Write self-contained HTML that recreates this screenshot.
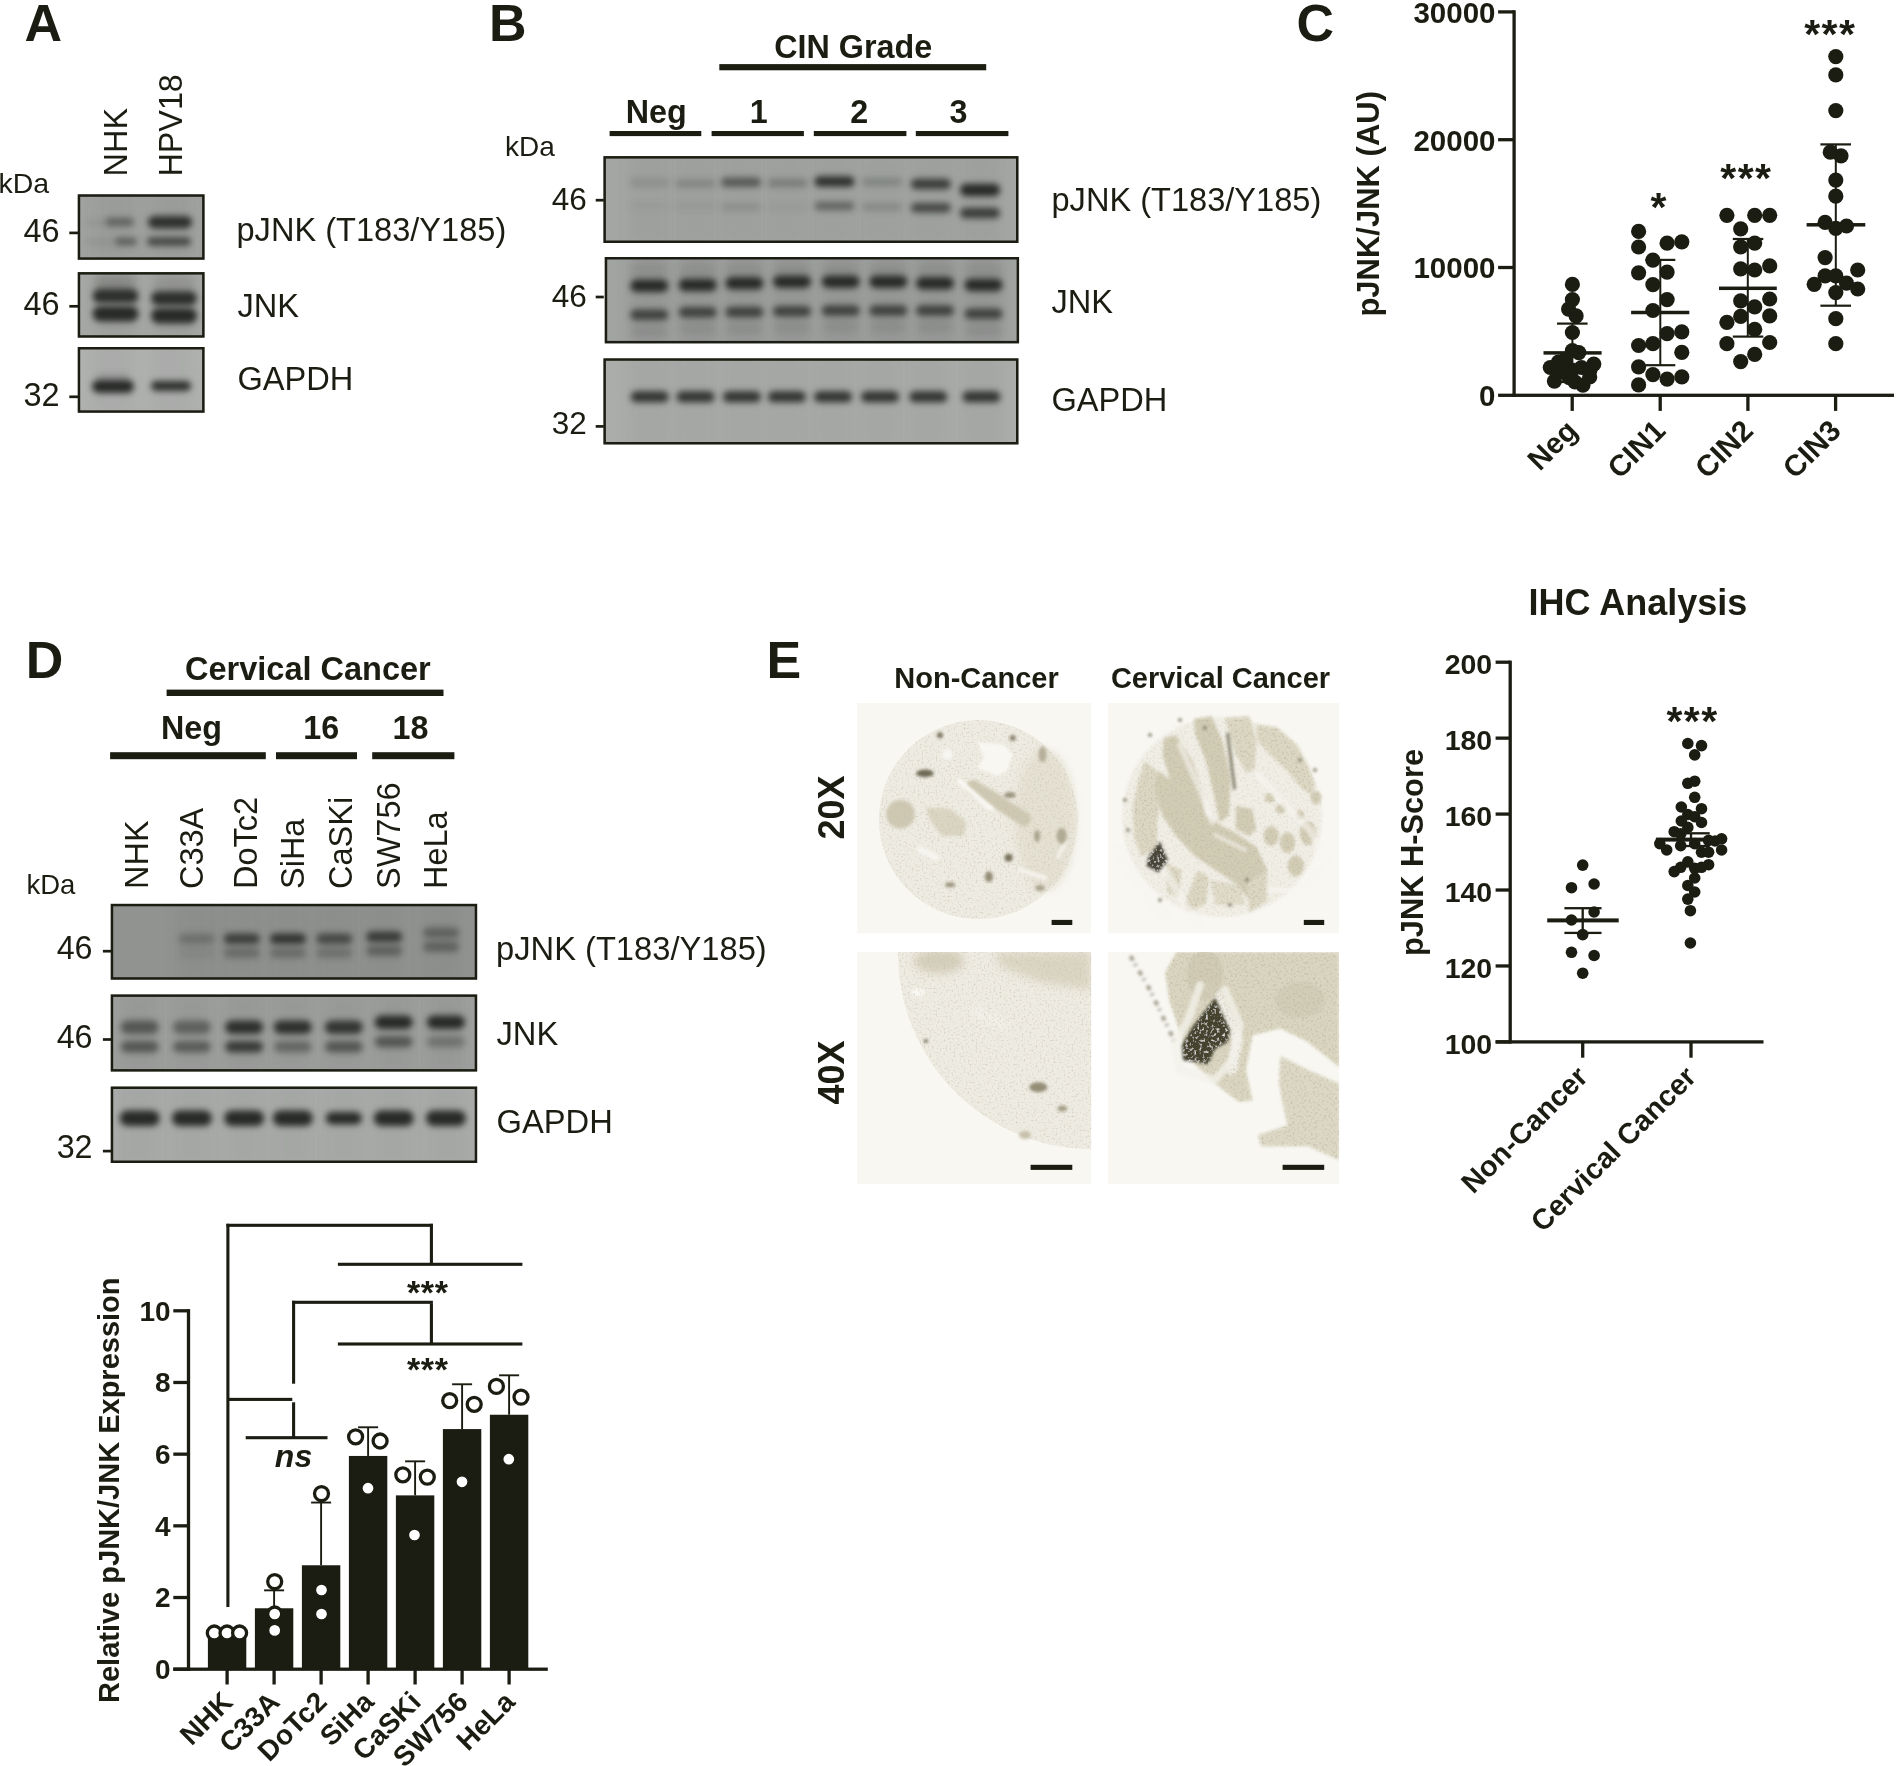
<!DOCTYPE html>
<html><head><meta charset="utf-8"><style>
html,body{margin:0;padding:0;background:#fff;width:1896px;height:1766px;overflow:hidden}
svg{display:block;font-family:"Liberation Sans",sans-serif;will-change:transform}
</style></head><body>
<svg width="1896" height="1766" viewBox="0 0 1896 1766">
<defs>
<filter id="bl" color-interpolation-filters="sRGB" x="-50%" y="-150%" width="200%" height="400%"><feGaussianBlur stdDeviation="1.6"/></filter>
<filter id="bb" color-interpolation-filters="sRGB" x="-50%" y="-150%" width="200%" height="400%"><feGaussianBlur stdDeviation="3.0"/></filter>
<filter id="bl3" color-interpolation-filters="sRGB" x="-50%" y="-150%" width="200%" height="400%"><feGaussianBlur stdDeviation="3"/></filter>
<filter id="bl2" color-interpolation-filters="sRGB" x="-50%" y="-50%" width="200%" height="200%"><feGaussianBlur stdDeviation="4"/></filter>
<filter id="bl6" color-interpolation-filters="sRGB" x="-50%" y="-50%" width="200%" height="200%"><feGaussianBlur stdDeviation="7"/></filter>
<filter id="lgrain" x="-10%" y="-10%" width="120%" height="120%">
  <feTurbulence type="fractalNoise" baseFrequency="0.5" numOctaves="2" seed="9" result="n"/>
  <feColorMatrix in="n" type="matrix" values="0 0 0 0 0.55  0 0 0 0 0.52  0 0 0 0 0.38  0 0 0 1.8 -0.92" result="nc"/>
  <feComposite in="nc" in2="SourceAlpha" operator="in" result="ng"/>
  <feMerge><feMergeNode in="SourceGraphic"/><feMergeNode in="ng"/></feMerge>
</filter>
<filter id="wgrain" x="-10%" y="-10%" width="120%" height="120%">
  <feTurbulence type="fractalNoise" baseFrequency="0.35" numOctaves="2" seed="11" result="n"/>
  <feColorMatrix in="n" type="matrix" values="0 0 0 0 0.96  0 0 0 0 0.95  0 0 0 0 0.92  0 0 0 2.6 -1.38" result="nc"/>
  <feComposite in="nc" in2="SourceAlpha" operator="in" result="ng"/>
  <feMerge><feMergeNode in="SourceGraphic"/><feMergeNode in="ng"/></feMerge>
</filter>
<filter id="tgrain" x="-10%" y="-10%" width="120%" height="120%">
  <feTurbulence type="fractalNoise" baseFrequency="0.45" numOctaves="2" seed="5" result="n"/>
  <feColorMatrix in="n" type="matrix" values="0 0 0 0 0.50  0 0 0 0 0.48  0 0 0 0 0.36  0 0 0 2.2 -1.08" result="nc"/>
  <feComposite in="nc" in2="SourceAlpha" operator="in" result="ng"/>
  <feMerge><feMergeNode in="SourceGraphic"/><feMergeNode in="ng"/></feMerge>
</filter>
</defs>
<rect width="1896" height="1766" fill="#fff"/>

<text x="24.5" y="41" font-size="52" font-weight="bold" text-anchor="start" fill="#1c1d12" >A</text>
<text transform="translate(127.3,176.5) rotate(-90)" font-size="32.5" text-anchor="start" fill="#1c1d12" >NHK</text>
<text transform="translate(182.3,176.5) rotate(-90)" font-size="32.3" text-anchor="start" fill="#1c1d12" >HPV18</text>
<text x="-1.5" y="192.5" font-size="28.5" text-anchor="start" fill="#1c1d12" >kDa</text>
<clipPath id="c1"><rect x="77.7" y="194.3" width="126.89999999999999" height="65.5"/></clipPath>
<g clip-path="url(#c1)">
<rect x="77.70" y="194.30" width="126.90" height="65.50" fill="#a0a2a0" />
<rect x="96.0" y="189.3" width="40" height="75.5" fill="#3a3c38" fill-opacity="0.06" filter="url(#bl6)"/>
<rect x="151.0" y="189.3" width="40" height="75.5" fill="#3a3c38" fill-opacity="0.06" filter="url(#bl6)"/>
<rect x="86.0" y="219.2" width="24.0" height="7.5" rx="3.8" fill="#282a28" fill-opacity="0.08" filter="url(#bb)"/>
<rect x="106.0" y="217.8" width="28.0" height="8.5" rx="4.2" fill="#282a28" fill-opacity="0.5" filter="url(#bb)"/>
<rect x="148.0" y="215.9" width="44.0" height="12.5" rx="6.2" fill="#282a28" fill-opacity="0.95" filter="url(#bb)"/>
<rect x="115.0" y="237.8" width="22.0" height="7.5" rx="3.8" fill="#282a28" fill-opacity="0.55" filter="url(#bb)"/>
<rect x="147.0" y="237.2" width="44.0" height="8.5" rx="4.2" fill="#282a28" fill-opacity="0.75" filter="url(#bb)"/>
<rect x="87.0" y="238.8" width="26.0" height="6.5" rx="3.2" fill="#282a28" fill-opacity="0.1" filter="url(#bb)"/>
</g>
<rect x="78.95" y="195.55" width="124.40" height="63.00" fill="none" stroke="#1c1d12" stroke-width="2.5"/>
<clipPath id="c2"><rect x="77.7" y="272.1" width="126.89999999999999" height="65.59999999999997"/></clipPath>
<g clip-path="url(#c2)">
<rect x="77.70" y="272.10" width="126.90" height="65.60" fill="#a6a8a6" />
<rect x="96.0" y="267.1" width="40" height="75.6" fill="#3a3c38" fill-opacity="0.08" filter="url(#bl6)"/>
<rect x="154.0" y="267.1" width="40" height="75.6" fill="#3a3c38" fill-opacity="0.08" filter="url(#bl6)"/>
<rect x="92.5" y="288.8" width="46.0" height="14.5" rx="7.2" fill="#282a28" fill-opacity="0.95" filter="url(#bb)"/>
<rect x="151.0" y="291.2" width="46.0" height="14.5" rx="7.2" fill="#282a28" fill-opacity="0.95" filter="url(#bb)"/>
<rect x="92.5" y="305.9" width="46.0" height="15.5" rx="7.8" fill="#282a28" fill-opacity="1.0" filter="url(#bb)"/>
<rect x="151.0" y="307.9" width="46.0" height="15.5" rx="7.8" fill="#282a28" fill-opacity="1.0" filter="url(#bb)"/>
<rect x="94.0" y="275.2" width="42.0" height="15.5" rx="7.8" fill="#262824" fill-opacity="0.18" filter="url(#bl2)"/>
<rect x="153.0" y="277.2" width="42.0" height="15.5" rx="7.8" fill="#262824" fill-opacity="0.1" filter="url(#bl2)"/>
</g>
<rect x="78.95" y="273.35" width="124.40" height="63.10" fill="none" stroke="#1c1d12" stroke-width="2.5"/>
<clipPath id="c3"><rect x="77.7" y="347.0" width="126.89999999999999" height="65.80000000000001"/></clipPath>
<g clip-path="url(#c3)">
<rect x="77.70" y="347.00" width="126.90" height="65.80" fill="#b0b2b0" />
<rect x="93.0" y="342.0" width="40" height="75.8" fill="#3a3c38" fill-opacity="0.05" filter="url(#bl6)"/>
<rect x="151.0" y="342.0" width="40" height="75.8" fill="#3a3c38" fill-opacity="0.05" filter="url(#bl6)"/>
<rect x="92.0" y="380.0" width="42.0" height="13.0" rx="6.5" fill="#282a28" fill-opacity="1.0" filter="url(#bb)"/>
<rect x="151.0" y="381.0" width="40.0" height="10.0" rx="5.0" fill="#282a28" fill-opacity="0.95" filter="url(#bb)"/>
<rect x="97.0" y="373.2" width="32.0" height="9.5" rx="4.8" fill="#282a28" fill-opacity="0.15" filter="url(#bb)"/>
</g>
<rect x="78.95" y="348.25" width="124.40" height="63.30" fill="none" stroke="#1c1d12" stroke-width="2.5"/>
<text x="59.6" y="241.8" font-size="32.5" text-anchor="end" fill="#1c1d12" >46</text>
<rect x="69.30" y="231.55" width="9.20" height="2.70" fill="#1c1d12" />
<text x="59.6" y="315.2" font-size="32.5" text-anchor="end" fill="#1c1d12" >46</text>
<rect x="69.30" y="304.95" width="9.20" height="2.70" fill="#1c1d12" />
<text x="59.6" y="405.7" font-size="32.5" text-anchor="end" fill="#1c1d12" >32</text>
<rect x="69.30" y="395.45" width="9.20" height="2.70" fill="#1c1d12" />
<text x="236.5" y="240.6" font-size="32.6" text-anchor="start" fill="#1c1d12" >pJNK (T183/Y185)</text>
<text x="237.5" y="316.8" font-size="32.6" text-anchor="start" fill="#1c1d12" >JNK</text>
<text x="237.5" y="390.2" font-size="32.6" text-anchor="start" fill="#1c1d12" >GAPDH</text>
<text x="489" y="40.5" font-size="52" font-weight="bold" text-anchor="start" fill="#1c1d12" >B</text>
<text x="853.2" y="58.4" font-size="32.3" font-weight="bold" text-anchor="middle" fill="#1c1d12" >CIN Grade</text>
<rect x="719.30" y="64.10" width="266.90" height="6.20" fill="#1c1d12" />
<text x="656.3" y="122.5" font-size="32.3" font-weight="bold" text-anchor="middle" fill="#1c1d12" >Neg</text>
<text x="758.8" y="122.5" font-size="32.3" font-weight="bold" text-anchor="middle" fill="#1c1d12" >1</text>
<text x="859.3" y="122.5" font-size="32.3" font-weight="bold" text-anchor="middle" fill="#1c1d12" >2</text>
<text x="958.4" y="122.5" font-size="32.3" font-weight="bold" text-anchor="middle" fill="#1c1d12" >3</text>
<rect x="609.60" y="131.00" width="91.70" height="5.10" fill="#1c1d12" />
<rect x="711.60" y="131.00" width="92.30" height="5.10" fill="#1c1d12" />
<rect x="813.80" y="131.00" width="92.60" height="5.10" fill="#1c1d12" />
<rect x="915.80" y="131.00" width="92.60" height="5.10" fill="#1c1d12" />
<text x="505" y="156.1" font-size="28" text-anchor="start" fill="#1c1d12" >kDa</text>
<clipPath id="c4"><rect x="603.4" y="156.1" width="415.1" height="86.9"/></clipPath>
<g clip-path="url(#c4)">
<rect x="603.40" y="156.10" width="415.10" height="86.90" fill="#a4a6a4" />
<rect x="629.5" y="151.1" width="40" height="96.9" fill="#3a3c38" fill-opacity="0.06" filter="url(#bl6)"/>
<rect x="675.5" y="151.1" width="40" height="96.9" fill="#3a3c38" fill-opacity="0.06" filter="url(#bl6)"/>
<rect x="721.0" y="151.1" width="40" height="96.9" fill="#3a3c38" fill-opacity="0.06" filter="url(#bl6)"/>
<rect x="767.5" y="151.1" width="40" height="96.9" fill="#3a3c38" fill-opacity="0.06" filter="url(#bl6)"/>
<rect x="814.4" y="151.1" width="40" height="96.9" fill="#3a3c38" fill-opacity="0.06" filter="url(#bl6)"/>
<rect x="862.0" y="151.1" width="40" height="96.9" fill="#3a3c38" fill-opacity="0.06" filter="url(#bl6)"/>
<rect x="910.9" y="151.1" width="40" height="96.9" fill="#3a3c38" fill-opacity="0.06" filter="url(#bl6)"/>
<rect x="960.0" y="151.1" width="40" height="96.9" fill="#3a3c38" fill-opacity="0.06" filter="url(#bl6)"/>
<rect x="629.5" y="178.2" width="40.0" height="8.5" rx="4.2" fill="#282a28" fill-opacity="0.14" filter="url(#bb)"/>
<rect x="629.5" y="202.2" width="40.0" height="7.5" rx="3.8" fill="#282a28" fill-opacity="0.04" filter="url(#bb)"/>
<rect x="675.5" y="179.2" width="40.0" height="8.5" rx="4.2" fill="#282a28" fill-opacity="0.22" filter="url(#bb)"/>
<rect x="675.5" y="202.2" width="40.0" height="7.5" rx="3.8" fill="#282a28" fill-opacity="0.06" filter="url(#bb)"/>
<rect x="721.0" y="177.6" width="40.0" height="9.5" rx="4.8" fill="#282a28" fill-opacity="0.6" filter="url(#bb)"/>
<rect x="721.0" y="203.2" width="40.0" height="7.5" rx="3.8" fill="#282a28" fill-opacity="0.15" filter="url(#bb)"/>
<rect x="767.5" y="178.8" width="40.0" height="8.5" rx="4.2" fill="#282a28" fill-opacity="0.3" filter="url(#bb)"/>
<rect x="767.5" y="203.8" width="40.0" height="6.5" rx="3.2" fill="#282a28" fill-opacity="0.05" filter="url(#bb)"/>
<rect x="814.4" y="176.2" width="40.0" height="10.5" rx="5.2" fill="#282a28" fill-opacity="0.95" filter="url(#bb)"/>
<rect x="814.4" y="201.8" width="40.0" height="8.5" rx="4.2" fill="#282a28" fill-opacity="0.5" filter="url(#bb)"/>
<rect x="862.0" y="178.2" width="40.0" height="7.5" rx="3.8" fill="#282a28" fill-opacity="0.25" filter="url(#bb)"/>
<rect x="862.0" y="203.2" width="40.0" height="7.5" rx="3.8" fill="#282a28" fill-opacity="0.2" filter="url(#bb)"/>
<rect x="910.9" y="178.8" width="40.0" height="10.5" rx="5.2" fill="#282a28" fill-opacity="0.85" filter="url(#bb)"/>
<rect x="910.9" y="203.1" width="40.0" height="9.5" rx="4.8" fill="#282a28" fill-opacity="0.75" filter="url(#bb)"/>
<rect x="960.0" y="183.8" width="40.0" height="12.5" rx="6.2" fill="#282a28" fill-opacity="1.0" filter="url(#bb)"/>
<rect x="960.0" y="207.7" width="40.0" height="10.5" rx="5.2" fill="#282a28" fill-opacity="0.85" filter="url(#bb)"/>
</g>
<rect x="604.65" y="157.35" width="412.60" height="84.40" fill="none" stroke="#1c1d12" stroke-width="2.5"/>
<clipPath id="c5"><rect x="604.7" y="257" width="414.4" height="86.39999999999998"/></clipPath>
<g clip-path="url(#c5)">
<rect x="604.70" y="257.00" width="414.40" height="86.40" fill="#a2a4a2" />
<rect x="629.3" y="252" width="40" height="96.4" fill="#3a3c38" fill-opacity="0.12" filter="url(#bl6)"/>
<rect x="677.7" y="252" width="40" height="96.4" fill="#3a3c38" fill-opacity="0.12" filter="url(#bl6)"/>
<rect x="724.4" y="252" width="40" height="96.4" fill="#3a3c38" fill-opacity="0.12" filter="url(#bl6)"/>
<rect x="772.0" y="252" width="40" height="96.4" fill="#3a3c38" fill-opacity="0.12" filter="url(#bl6)"/>
<rect x="820.7" y="252" width="40" height="96.4" fill="#3a3c38" fill-opacity="0.12" filter="url(#bl6)"/>
<rect x="868.3" y="252" width="40" height="96.4" fill="#3a3c38" fill-opacity="0.12" filter="url(#bl6)"/>
<rect x="915.0" y="252" width="40" height="96.4" fill="#3a3c38" fill-opacity="0.12" filter="url(#bl6)"/>
<rect x="963.5" y="252" width="40" height="96.4" fill="#3a3c38" fill-opacity="0.12" filter="url(#bl6)"/>
<rect x="630.3" y="279.6" width="38.0" height="12.5" rx="6.2" fill="#282a28" fill-opacity="1.0" filter="url(#bb)"/>
<rect x="630.3" y="309.6" width="38.0" height="10.5" rx="5.2" fill="#282a28" fill-opacity="0.8" filter="url(#bb)"/>
<rect x="631.3" y="325.1" width="36.0" height="11.5" rx="5.8" fill="#3a3c38" fill-opacity="0.1" filter="url(#bl3)"/>
<rect x="631.3" y="263.2" width="36.0" height="15.5" rx="7.8" fill="#3a3c38" fill-opacity="0.08" filter="url(#bl3)"/>
<rect x="678.7" y="278.8" width="38.0" height="12.5" rx="6.2" fill="#282a28" fill-opacity="1.0" filter="url(#bb)"/>
<rect x="678.7" y="306.9" width="38.0" height="10.5" rx="5.2" fill="#282a28" fill-opacity="0.8" filter="url(#bb)"/>
<rect x="679.7" y="322.4" width="36.0" height="11.5" rx="5.8" fill="#3a3c38" fill-opacity="0.1" filter="url(#bl3)"/>
<rect x="679.7" y="263.2" width="36.0" height="15.5" rx="7.8" fill="#3a3c38" fill-opacity="0.08" filter="url(#bl3)"/>
<rect x="725.4" y="277.1" width="38.0" height="12.5" rx="6.2" fill="#282a28" fill-opacity="1.0" filter="url(#bb)"/>
<rect x="725.4" y="306.8" width="38.0" height="10.5" rx="5.2" fill="#282a28" fill-opacity="0.8" filter="url(#bb)"/>
<rect x="726.4" y="322.2" width="36.0" height="11.5" rx="5.8" fill="#3a3c38" fill-opacity="0.1" filter="url(#bl3)"/>
<rect x="726.4" y="263.2" width="36.0" height="15.5" rx="7.8" fill="#3a3c38" fill-opacity="0.08" filter="url(#bl3)"/>
<rect x="773.0" y="275.4" width="38.0" height="12.5" rx="6.2" fill="#282a28" fill-opacity="1.0" filter="url(#bb)"/>
<rect x="773.0" y="306.1" width="38.0" height="10.5" rx="5.2" fill="#282a28" fill-opacity="0.8" filter="url(#bb)"/>
<rect x="774.0" y="321.6" width="36.0" height="11.5" rx="5.8" fill="#3a3c38" fill-opacity="0.1" filter="url(#bl3)"/>
<rect x="774.0" y="263.2" width="36.0" height="15.5" rx="7.8" fill="#3a3c38" fill-opacity="0.08" filter="url(#bl3)"/>
<rect x="821.7" y="275.4" width="38.0" height="12.5" rx="6.2" fill="#282a28" fill-opacity="1.0" filter="url(#bb)"/>
<rect x="821.7" y="305.2" width="38.0" height="10.5" rx="5.2" fill="#282a28" fill-opacity="0.8" filter="url(#bb)"/>
<rect x="822.7" y="320.8" width="36.0" height="11.5" rx="5.8" fill="#3a3c38" fill-opacity="0.1" filter="url(#bl3)"/>
<rect x="822.7" y="263.2" width="36.0" height="15.5" rx="7.8" fill="#3a3c38" fill-opacity="0.08" filter="url(#bl3)"/>
<rect x="869.3" y="275.4" width="38.0" height="12.5" rx="6.2" fill="#282a28" fill-opacity="1.0" filter="url(#bb)"/>
<rect x="869.3" y="305.2" width="38.0" height="10.5" rx="5.2" fill="#282a28" fill-opacity="0.8" filter="url(#bb)"/>
<rect x="870.3" y="320.8" width="36.0" height="11.5" rx="5.8" fill="#3a3c38" fill-opacity="0.1" filter="url(#bl3)"/>
<rect x="870.3" y="263.2" width="36.0" height="15.5" rx="7.8" fill="#3a3c38" fill-opacity="0.08" filter="url(#bl3)"/>
<rect x="916.0" y="277.1" width="38.0" height="12.5" rx="6.2" fill="#282a28" fill-opacity="1.0" filter="url(#bb)"/>
<rect x="916.0" y="305.2" width="38.0" height="10.5" rx="5.2" fill="#282a28" fill-opacity="0.8" filter="url(#bb)"/>
<rect x="917.0" y="320.8" width="36.0" height="11.5" rx="5.8" fill="#3a3c38" fill-opacity="0.1" filter="url(#bl3)"/>
<rect x="917.0" y="263.2" width="36.0" height="15.5" rx="7.8" fill="#3a3c38" fill-opacity="0.08" filter="url(#bl3)"/>
<rect x="964.5" y="278.8" width="38.0" height="12.5" rx="6.2" fill="#282a28" fill-opacity="1.0" filter="url(#bb)"/>
<rect x="964.5" y="308.6" width="38.0" height="10.5" rx="5.2" fill="#282a28" fill-opacity="0.8" filter="url(#bb)"/>
<rect x="965.5" y="324.1" width="36.0" height="11.5" rx="5.8" fill="#3a3c38" fill-opacity="0.1" filter="url(#bl3)"/>
<rect x="965.5" y="263.2" width="36.0" height="15.5" rx="7.8" fill="#3a3c38" fill-opacity="0.08" filter="url(#bl3)"/>
</g>
<rect x="605.95" y="258.25" width="411.90" height="83.90" fill="none" stroke="#1c1d12" stroke-width="2.5"/>
<clipPath id="c6"><rect x="603.4" y="358.3" width="415.1" height="86.19999999999999"/></clipPath>
<g clip-path="url(#c6)">
<rect x="603.40" y="358.30" width="415.10" height="86.20" fill="#abadab" />
<rect x="629.7" y="353.3" width="40" height="96.2" fill="#3a3c38" fill-opacity="0.05" filter="url(#bl6)"/>
<rect x="675.5" y="353.3" width="40" height="96.2" fill="#3a3c38" fill-opacity="0.05" filter="url(#bl6)"/>
<rect x="721.9" y="353.3" width="40" height="96.2" fill="#3a3c38" fill-opacity="0.05" filter="url(#bl6)"/>
<rect x="766.9" y="353.3" width="40" height="96.2" fill="#3a3c38" fill-opacity="0.05" filter="url(#bl6)"/>
<rect x="813.0" y="353.3" width="40" height="96.2" fill="#3a3c38" fill-opacity="0.05" filter="url(#bl6)"/>
<rect x="860.0" y="353.3" width="40" height="96.2" fill="#3a3c38" fill-opacity="0.05" filter="url(#bl6)"/>
<rect x="908.3" y="353.3" width="40" height="96.2" fill="#3a3c38" fill-opacity="0.05" filter="url(#bl6)"/>
<rect x="961.4" y="353.3" width="40" height="96.2" fill="#3a3c38" fill-opacity="0.05" filter="url(#bl6)"/>
<rect x="630.7" y="391.3" width="38.0" height="11.0" rx="5.5" fill="#282a28" fill-opacity="0.92" filter="url(#bb)"/>
<rect x="676.5" y="391.3" width="38.0" height="11.0" rx="5.5" fill="#282a28" fill-opacity="0.92" filter="url(#bb)"/>
<rect x="722.9" y="391.3" width="38.0" height="11.0" rx="5.5" fill="#282a28" fill-opacity="0.92" filter="url(#bb)"/>
<rect x="767.9" y="391.3" width="38.0" height="11.0" rx="5.5" fill="#282a28" fill-opacity="0.92" filter="url(#bb)"/>
<rect x="814.0" y="391.3" width="38.0" height="11.0" rx="5.5" fill="#282a28" fill-opacity="0.92" filter="url(#bb)"/>
<rect x="861.0" y="391.3" width="38.0" height="11.0" rx="5.5" fill="#282a28" fill-opacity="0.92" filter="url(#bb)"/>
<rect x="909.3" y="391.3" width="38.0" height="11.0" rx="5.5" fill="#282a28" fill-opacity="0.92" filter="url(#bb)"/>
<rect x="962.4" y="391.3" width="38.0" height="11.0" rx="5.5" fill="#282a28" fill-opacity="0.92" filter="url(#bb)"/>
</g>
<rect x="604.65" y="359.55" width="412.60" height="83.70" fill="none" stroke="#1c1d12" stroke-width="2.5"/>
<text x="586.8" y="209.9" font-size="31.5" text-anchor="end" fill="#1c1d12" >46</text>
<rect x="595.70" y="198.85" width="8.10" height="2.70" fill="#1c1d12" />
<text x="586.8" y="306.5" font-size="31.5" text-anchor="end" fill="#1c1d12" >46</text>
<rect x="595.70" y="295.65" width="8.10" height="2.70" fill="#1c1d12" />
<text x="586.8" y="433.5" font-size="31.5" text-anchor="end" fill="#1c1d12" >32</text>
<rect x="595.70" y="425.05" width="8.10" height="2.70" fill="#1c1d12" />
<text x="1051.5" y="210.8" font-size="32.6" text-anchor="start" fill="#1c1d12" >pJNK (T183/Y185)</text>
<text x="1051.5" y="313" font-size="32.6" text-anchor="start" fill="#1c1d12" >JNK</text>
<text x="1051.5" y="410.5" font-size="32.6" text-anchor="start" fill="#1c1d12" >GAPDH</text>
<text x="1296.5" y="40.6" font-size="52" font-weight="bold" text-anchor="start" fill="#1c1d12" >C</text>
<rect x="1512.45" y="10.20" width="3.30" height="386.80" fill="#1c1d12" />
<rect x="1512.50" y="393.65" width="381.50" height="3.30" fill="#1c1d12" />
<rect x="1498.10" y="393.65" width="16.00" height="3.30" fill="#1c1d12" />
<text x="1495.5" y="406.1" font-size="29.5" font-weight="bold" text-anchor="end" fill="#1c1d12" >0</text>
<rect x="1498.10" y="265.85" width="16.00" height="3.30" fill="#1c1d12" />
<text x="1495.5" y="278.3" font-size="29.5" font-weight="bold" text-anchor="end" fill="#1c1d12" >10000</text>
<rect x="1498.10" y="138.05" width="16.00" height="3.30" fill="#1c1d12" />
<text x="1495.5" y="150.5" font-size="29.5" font-weight="bold" text-anchor="end" fill="#1c1d12" >20000</text>
<rect x="1498.10" y="10.25" width="16.00" height="3.30" fill="#1c1d12" />
<text x="1495.5" y="22.699999999999978" font-size="29.5" font-weight="bold" text-anchor="end" fill="#1c1d12" >30000</text>
<rect x="1570.55" y="395.30" width="3.30" height="15.60" fill="#1c1d12" />
<rect x="1658.55" y="395.30" width="3.30" height="15.60" fill="#1c1d12" />
<rect x="1746.25" y="395.30" width="3.30" height="15.60" fill="#1c1d12" />
<rect x="1833.95" y="395.30" width="3.30" height="15.60" fill="#1c1d12" />
<text transform="translate(1379,203.8) rotate(-90)" font-size="31" font-weight="bold" text-anchor="middle" fill="#1c1d12" >pJNK/JNK (AU)</text>
<text transform="translate(1579.2,432.5) rotate(-45)" font-size="29.5" font-weight="bold" text-anchor="end" fill="#1c1d12" >Neg</text>
<text transform="translate(1667.2,432.5) rotate(-45)" font-size="29.5" font-weight="bold" text-anchor="end" fill="#1c1d12" >CIN1</text>
<text transform="translate(1754.9,432.5) rotate(-45)" font-size="29.5" font-weight="bold" text-anchor="end" fill="#1c1d12" >CIN2</text>
<text transform="translate(1842.6,432.5) rotate(-45)" font-size="29.5" font-weight="bold" text-anchor="end" fill="#1c1d12" >CIN3</text>
<circle cx="1572.4" cy="284.4" r="7.6" fill="#1c1d12"/>
<circle cx="1572.4" cy="299.6" r="7.6" fill="#1c1d12"/>
<circle cx="1568.6" cy="309.1" r="7.6" fill="#1c1d12"/>
<circle cx="1576.1" cy="315.9" r="7.6" fill="#1c1d12"/>
<circle cx="1572.4" cy="332.5" r="7.6" fill="#1c1d12"/>
<circle cx="1572.4" cy="350.5" r="7.6" fill="#1c1d12"/>
<circle cx="1578.8" cy="352.6" r="7.6" fill="#1c1d12"/>
<circle cx="1558.4" cy="362.1" r="7.6" fill="#1c1d12"/>
<circle cx="1550.3" cy="367.5" r="7.6" fill="#1c1d12"/>
<circle cx="1593.8" cy="364.1" r="7.6" fill="#1c1d12"/>
<circle cx="1569.3" cy="377.7" r="7.6" fill="#1c1d12"/>
<circle cx="1554.4" cy="381.1" r="7.6" fill="#1c1d12"/>
<circle cx="1589.7" cy="377" r="7.6" fill="#1c1d12"/>
<circle cx="1582.9" cy="385.2" r="7.6" fill="#1c1d12"/>
<circle cx="1572" cy="370.2" r="7.6" fill="#1c1d12"/>
<circle cx="1581.5" cy="367.5" r="7.6" fill="#1c1d12"/>
<circle cx="1560" cy="372" r="7.6" fill="#1c1d12"/>
<circle cx="1590" cy="370" r="7.6" fill="#1c1d12"/>
<circle cx="1565" cy="360" r="7.6" fill="#1c1d12"/>
<circle cx="1575" cy="382" r="7.6" fill="#1c1d12"/>
<circle cx="1638.6" cy="231.4" r="7.6" fill="#1c1d12"/>
<circle cx="1638.6" cy="247" r="7.6" fill="#1c1d12"/>
<circle cx="1667.1" cy="243.2" r="7.6" fill="#1c1d12"/>
<circle cx="1681.8" cy="241.8" r="7.6" fill="#1c1d12"/>
<circle cx="1652.9" cy="260.2" r="7.6" fill="#1c1d12"/>
<circle cx="1638.6" cy="272.8" r="7.6" fill="#1c1d12"/>
<circle cx="1667.1" cy="272.1" r="7.6" fill="#1c1d12"/>
<circle cx="1652.9" cy="284.6" r="7.6" fill="#1c1d12"/>
<circle cx="1667.1" cy="299.6" r="7.6" fill="#1c1d12"/>
<circle cx="1652.9" cy="310.5" r="7.6" fill="#1c1d12"/>
<circle cx="1667.1" cy="333.6" r="7.6" fill="#1c1d12"/>
<circle cx="1681.8" cy="331.9" r="7.6" fill="#1c1d12"/>
<circle cx="1638.6" cy="345.5" r="7.6" fill="#1c1d12"/>
<circle cx="1652.9" cy="343.7" r="7.6" fill="#1c1d12"/>
<circle cx="1681.8" cy="352.3" r="7.6" fill="#1c1d12"/>
<circle cx="1638.6" cy="366.8" r="7.6" fill="#1c1d12"/>
<circle cx="1652.9" cy="374.6" r="7.6" fill="#1c1d12"/>
<circle cx="1667.1" cy="379.1" r="7.6" fill="#1c1d12"/>
<circle cx="1681.8" cy="376.8" r="7.6" fill="#1c1d12"/>
<circle cx="1638.6" cy="384.9" r="7.6" fill="#1c1d12"/>
<circle cx="1726.9" cy="215.3" r="7.6" fill="#1c1d12"/>
<circle cx="1754.7" cy="215.3" r="7.6" fill="#1c1d12"/>
<circle cx="1769.7" cy="215.3" r="7.6" fill="#1c1d12"/>
<circle cx="1740.7" cy="228.8" r="7.6" fill="#1c1d12"/>
<circle cx="1740.7" cy="246.9" r="7.6" fill="#1c1d12"/>
<circle cx="1754.7" cy="243.1" r="7.6" fill="#1c1d12"/>
<circle cx="1740.7" cy="268.8" r="7.6" fill="#1c1d12"/>
<circle cx="1754.7" cy="270" r="7.6" fill="#1c1d12"/>
<circle cx="1769.7" cy="265.9" r="7.6" fill="#1c1d12"/>
<circle cx="1740.7" cy="300.9" r="7.6" fill="#1c1d12"/>
<circle cx="1754.7" cy="306.8" r="7.6" fill="#1c1d12"/>
<circle cx="1769.7" cy="299" r="7.6" fill="#1c1d12"/>
<circle cx="1740.7" cy="316.4" r="7.6" fill="#1c1d12"/>
<circle cx="1726.9" cy="322.3" r="7.6" fill="#1c1d12"/>
<circle cx="1769.7" cy="315.9" r="7.6" fill="#1c1d12"/>
<circle cx="1754.7" cy="329.4" r="7.6" fill="#1c1d12"/>
<circle cx="1726.9" cy="343.7" r="7.6" fill="#1c1d12"/>
<circle cx="1769.7" cy="342.5" r="7.6" fill="#1c1d12"/>
<circle cx="1754.7" cy="354.4" r="7.6" fill="#1c1d12"/>
<circle cx="1740.7" cy="361.6" r="7.6" fill="#1c1d12"/>
<circle cx="1835.8" cy="56.6" r="7.6" fill="#1c1d12"/>
<circle cx="1835.8" cy="74.9" r="7.6" fill="#1c1d12"/>
<circle cx="1835.8" cy="110.6" r="7.6" fill="#1c1d12"/>
<circle cx="1830.3" cy="152.2" r="7.6" fill="#1c1d12"/>
<circle cx="1841" cy="155.8" r="7.6" fill="#1c1d12"/>
<circle cx="1835.8" cy="180.1" r="7.6" fill="#1c1d12"/>
<circle cx="1835.8" cy="196.2" r="7.6" fill="#1c1d12"/>
<circle cx="1825.1" cy="222.4" r="7.6" fill="#1c1d12"/>
<circle cx="1835.8" cy="228.4" r="7.6" fill="#1c1d12"/>
<circle cx="1846.5" cy="226" r="7.6" fill="#1c1d12"/>
<circle cx="1825.1" cy="257.6" r="7.6" fill="#1c1d12"/>
<circle cx="1857.7" cy="270" r="7.6" fill="#1c1d12"/>
<circle cx="1825.1" cy="275.9" r="7.6" fill="#1c1d12"/>
<circle cx="1835.8" cy="275.9" r="7.6" fill="#1c1d12"/>
<circle cx="1814.2" cy="284.3" r="7.6" fill="#1c1d12"/>
<circle cx="1846.5" cy="283.1" r="7.6" fill="#1c1d12"/>
<circle cx="1835.8" cy="292.6" r="7.6" fill="#1c1d12"/>
<circle cx="1857.7" cy="289" r="7.6" fill="#1c1d12"/>
<circle cx="1835.8" cy="318.7" r="7.6" fill="#1c1d12"/>
<circle cx="1835.8" cy="343.7" r="7.6" fill="#1c1d12"/>
<rect x="1571.40" y="323.60" width="2.00" height="58.40" fill="#1c1d12" />
<rect x="1543.50" y="351.15" width="58.10" height="3.50" fill="#1c1d12" />
<rect x="1557.00" y="322.50" width="30.60" height="2.20" fill="#1c1d12" />
<rect x="1557.00" y="380.90" width="30.60" height="2.20" fill="#1c1d12" />
<rect x="1659.30" y="259.90" width="2.00" height="105.30" fill="#1c1d12" />
<rect x="1631.10" y="310.75" width="58.20" height="3.50" fill="#1c1d12" />
<rect x="1645.40" y="258.80" width="29.90" height="2.20" fill="#1c1d12" />
<rect x="1645.40" y="364.10" width="29.90" height="2.20" fill="#1c1d12" />
<rect x="1746.80" y="239.00" width="2.00" height="97.60" fill="#1c1d12" />
<rect x="1719.00" y="286.55" width="57.80" height="3.50" fill="#1c1d12" />
<rect x="1732.80" y="237.90" width="30.50" height="2.20" fill="#1c1d12" />
<rect x="1732.80" y="335.50" width="30.50" height="2.20" fill="#1c1d12" />
<rect x="1834.80" y="144.40" width="2.00" height="161.30" fill="#1c1d12" />
<rect x="1806.60" y="223.05" width="58.70" height="3.50" fill="#1c1d12" />
<rect x="1820.40" y="143.30" width="30.60" height="2.20" fill="#1c1d12" />
<rect x="1820.40" y="304.60" width="30.60" height="2.20" fill="#1c1d12" />
<text x="1658.6" y="221" font-size="41" font-weight="bold" text-anchor="middle" fill="#1c1d12" >*</text>
<text x="1746.4" y="192" font-size="41" font-weight="bold" text-anchor="middle" fill="#1c1d12" letter-spacing="1.4">***</text>
<text x="1830.3" y="48.2" font-size="41" font-weight="bold" text-anchor="middle" fill="#1c1d12" letter-spacing="1.4">***</text>
<text x="25.8" y="678.2" font-size="52" font-weight="bold" text-anchor="start" fill="#1c1d12" >D</text>
<text x="307.9" y="680.3" font-size="32.5" font-weight="bold" text-anchor="middle" fill="#1c1d12" >Cervical Cancer</text>
<rect x="166.60" y="689.60" width="276.90" height="6.40" fill="#1c1d12" />
<text x="191.4" y="738.5" font-size="32.3" font-weight="bold" text-anchor="middle" fill="#1c1d12" >Neg</text>
<text x="321.3" y="738.5" font-size="32.3" font-weight="bold" text-anchor="middle" fill="#1c1d12" >16</text>
<text x="410.4" y="738.5" font-size="32.3" font-weight="bold" text-anchor="middle" fill="#1c1d12" >18</text>
<rect x="110.10" y="752.20" width="155.70" height="7.00" fill="#1c1d12" />
<rect x="276.00" y="752.20" width="81.00" height="7.00" fill="#1c1d12" />
<rect x="372.20" y="752.20" width="82.20" height="7.00" fill="#1c1d12" />
<text transform="translate(148.3,889) rotate(-90)" font-size="32.5" text-anchor="start" fill="#1c1d12" >NHK</text>
<text transform="translate(202.7,889) rotate(-90)" font-size="32.5" text-anchor="start" fill="#1c1d12" >C33A</text>
<text transform="translate(257.2,889) rotate(-90)" font-size="32.5" text-anchor="start" fill="#1c1d12" >DoTc2</text>
<text transform="translate(304,889) rotate(-90)" font-size="32.5" text-anchor="start" fill="#1c1d12" >SiHa</text>
<text transform="translate(352.1,889) rotate(-90)" font-size="32.5" text-anchor="start" fill="#1c1d12" >CaSKi</text>
<text transform="translate(400.2,889) rotate(-90)" font-size="32.5" text-anchor="start" fill="#1c1d12" >SW756</text>
<text transform="translate(447,889) rotate(-90)" font-size="32.5" text-anchor="start" fill="#1c1d12" >HeLa</text>
<text x="26.5" y="893.9" font-size="27.5" text-anchor="start" fill="#1c1d12" >kDa</text>
<clipPath id="c7"><rect x="110.7" y="903.8" width="366.5" height="75.90000000000009"/></clipPath>
<g clip-path="url(#c7)">
<rect x="110.70" y="903.80" width="366.50" height="75.90" fill="#919391" />
<rect x="176.7" y="898.8" width="40" height="85.9" fill="#3a3c38" fill-opacity="0.05" filter="url(#bl6)"/>
<rect x="221.8" y="898.8" width="40" height="85.9" fill="#3a3c38" fill-opacity="0.05" filter="url(#bl6)"/>
<rect x="268.0" y="898.8" width="40" height="85.9" fill="#3a3c38" fill-opacity="0.05" filter="url(#bl6)"/>
<rect x="314.3" y="898.8" width="40" height="85.9" fill="#3a3c38" fill-opacity="0.05" filter="url(#bl6)"/>
<rect x="364.2" y="898.8" width="40" height="85.9" fill="#3a3c38" fill-opacity="0.05" filter="url(#bl6)"/>
<rect x="421.1" y="898.8" width="40" height="85.9" fill="#3a3c38" fill-opacity="0.05" filter="url(#bl6)"/>
<rect x="178.7" y="933.5" width="36.0" height="10.5" rx="5.2" fill="#282a28" fill-opacity="0.3" filter="url(#bb)"/>
<rect x="178.7" y="947.6" width="36.0" height="10.5" rx="5.2" fill="#282a28" fill-opacity="0.08" filter="url(#bb)"/>
<rect x="223.8" y="933.5" width="36.0" height="10.5" rx="5.2" fill="#282a28" fill-opacity="0.8" filter="url(#bb)"/>
<rect x="223.8" y="947.6" width="36.0" height="10.5" rx="5.2" fill="#282a28" fill-opacity="0.35" filter="url(#bb)"/>
<rect x="270.0" y="933.5" width="36.0" height="10.5" rx="5.2" fill="#282a28" fill-opacity="0.9" filter="url(#bb)"/>
<rect x="270.0" y="947.6" width="36.0" height="10.5" rx="5.2" fill="#282a28" fill-opacity="0.35" filter="url(#bb)"/>
<rect x="316.3" y="933.5" width="36.0" height="10.5" rx="5.2" fill="#282a28" fill-opacity="0.7" filter="url(#bb)"/>
<rect x="316.3" y="947.6" width="36.0" height="10.5" rx="5.2" fill="#282a28" fill-opacity="0.3" filter="url(#bb)"/>
<rect x="366.2" y="931.5" width="36.0" height="10.5" rx="5.2" fill="#282a28" fill-opacity="0.85" filter="url(#bb)"/>
<rect x="366.2" y="945.6" width="36.0" height="10.5" rx="5.2" fill="#282a28" fill-opacity="0.45" filter="url(#bb)"/>
<rect x="423.1" y="927.5" width="36.0" height="10.5" rx="5.2" fill="#282a28" fill-opacity="0.45" filter="url(#bb)"/>
<rect x="423.1" y="941.6" width="36.0" height="10.5" rx="5.2" fill="#282a28" fill-opacity="0.45" filter="url(#bb)"/>
</g>
<rect x="111.95" y="905.05" width="364.00" height="73.40" fill="none" stroke="#1c1d12" stroke-width="2.5"/>
<clipPath id="c8"><rect x="110.7" y="994.4" width="366.5" height="77.19999999999993"/></clipPath>
<g clip-path="url(#c8)">
<rect x="110.70" y="994.40" width="366.50" height="77.20" fill="#9fa19f" />
<rect x="119.7" y="989.4" width="40" height="87.2" fill="#3a3c38" fill-opacity="0.07" filter="url(#bl6)"/>
<rect x="171.9" y="989.4" width="40" height="87.2" fill="#3a3c38" fill-opacity="0.07" filter="url(#bl6)"/>
<rect x="224.1" y="989.4" width="40" height="87.2" fill="#3a3c38" fill-opacity="0.07" filter="url(#bl6)"/>
<rect x="272.8" y="989.4" width="40" height="87.2" fill="#3a3c38" fill-opacity="0.07" filter="url(#bl6)"/>
<rect x="323.8" y="989.4" width="40" height="87.2" fill="#3a3c38" fill-opacity="0.07" filter="url(#bl6)"/>
<rect x="373.7" y="989.4" width="40" height="87.2" fill="#3a3c38" fill-opacity="0.07" filter="url(#bl6)"/>
<rect x="425.9" y="989.4" width="40" height="87.2" fill="#3a3c38" fill-opacity="0.07" filter="url(#bl6)"/>
<rect x="120.7" y="1020.5" width="38.0" height="13.5" rx="6.8" fill="#282a28" fill-opacity="0.6" filter="url(#bb)"/>
<rect x="120.7" y="1041.0" width="38.0" height="11.5" rx="5.8" fill="#282a28" fill-opacity="0.6" filter="url(#bb)"/>
<rect x="172.9" y="1020.5" width="38.0" height="13.5" rx="6.8" fill="#282a28" fill-opacity="0.5" filter="url(#bb)"/>
<rect x="172.9" y="1041.0" width="38.0" height="11.5" rx="5.8" fill="#282a28" fill-opacity="0.55" filter="url(#bb)"/>
<rect x="225.1" y="1020.5" width="38.0" height="13.5" rx="6.8" fill="#282a28" fill-opacity="0.95" filter="url(#bb)"/>
<rect x="225.1" y="1041.0" width="38.0" height="11.5" rx="5.8" fill="#282a28" fill-opacity="0.85" filter="url(#bb)"/>
<rect x="273.8" y="1020.5" width="38.0" height="13.5" rx="6.8" fill="#282a28" fill-opacity="0.95" filter="url(#bb)"/>
<rect x="273.8" y="1041.0" width="38.0" height="11.5" rx="5.8" fill="#282a28" fill-opacity="0.45" filter="url(#bb)"/>
<rect x="324.8" y="1020.5" width="38.0" height="13.5" rx="6.8" fill="#282a28" fill-opacity="0.9" filter="url(#bb)"/>
<rect x="324.8" y="1041.0" width="38.0" height="11.5" rx="5.8" fill="#282a28" fill-opacity="0.6" filter="url(#bb)"/>
<rect x="374.7" y="1015.5" width="38.0" height="13.5" rx="6.8" fill="#282a28" fill-opacity="1.0" filter="url(#bb)"/>
<rect x="374.7" y="1036.0" width="38.0" height="11.5" rx="5.8" fill="#282a28" fill-opacity="0.6" filter="url(#bb)"/>
<rect x="426.9" y="1015.5" width="38.0" height="13.5" rx="6.8" fill="#282a28" fill-opacity="1.0" filter="url(#bb)"/>
<rect x="426.9" y="1036.0" width="38.0" height="11.5" rx="5.8" fill="#282a28" fill-opacity="0.35" filter="url(#bb)"/>
</g>
<rect x="111.95" y="995.65" width="364.00" height="74.70" fill="none" stroke="#1c1d12" stroke-width="2.5"/>
<clipPath id="c9"><rect x="110.7" y="1086.5" width="366.5" height="76.5"/></clipPath>
<g clip-path="url(#c9)">
<rect x="110.70" y="1086.50" width="366.50" height="76.50" fill="#aaacaa" />
<rect x="119.7" y="1081.5" width="40" height="86.5" fill="#3a3c38" fill-opacity="0.04" filter="url(#bl6)"/>
<rect x="171.9" y="1081.5" width="40" height="86.5" fill="#3a3c38" fill-opacity="0.04" filter="url(#bl6)"/>
<rect x="224.1" y="1081.5" width="40" height="86.5" fill="#3a3c38" fill-opacity="0.04" filter="url(#bl6)"/>
<rect x="272.8" y="1081.5" width="40" height="86.5" fill="#3a3c38" fill-opacity="0.04" filter="url(#bl6)"/>
<rect x="323.8" y="1081.5" width="40" height="86.5" fill="#3a3c38" fill-opacity="0.04" filter="url(#bl6)"/>
<rect x="373.7" y="1081.5" width="40" height="86.5" fill="#3a3c38" fill-opacity="0.04" filter="url(#bl6)"/>
<rect x="425.9" y="1081.5" width="40" height="86.5" fill="#3a3c38" fill-opacity="0.04" filter="url(#bl6)"/>
<rect x="119.7" y="1110.5" width="40.0" height="15.5" rx="7.8" fill="#282a28" fill-opacity="1.0" filter="url(#bb)"/>
<rect x="171.9" y="1110.5" width="40.0" height="15.5" rx="7.8" fill="#282a28" fill-opacity="1.0" filter="url(#bb)"/>
<rect x="224.1" y="1110.5" width="40.0" height="15.5" rx="7.8" fill="#282a28" fill-opacity="1.0" filter="url(#bb)"/>
<rect x="272.8" y="1110.5" width="40.0" height="15.5" rx="7.8" fill="#282a28" fill-opacity="1.0" filter="url(#bb)"/>
<rect x="325.8" y="1112.0" width="36.0" height="12.5" rx="6.2" fill="#282a28" fill-opacity="1.0" filter="url(#bb)"/>
<rect x="373.7" y="1110.5" width="40.0" height="15.5" rx="7.8" fill="#282a28" fill-opacity="1.0" filter="url(#bb)"/>
<rect x="425.9" y="1110.5" width="40.0" height="15.5" rx="7.8" fill="#282a28" fill-opacity="1.0" filter="url(#bb)"/>
</g>
<rect x="111.95" y="1087.75" width="364.00" height="74.00" fill="none" stroke="#1c1d12" stroke-width="2.5"/>
<text x="92.6" y="959.3" font-size="32.3" text-anchor="end" fill="#1c1d12" >46</text>
<rect x="102.90" y="949.85" width="8.10" height="2.70" fill="#1c1d12" />
<text x="92.6" y="1047.8" font-size="32.3" text-anchor="end" fill="#1c1d12" >46</text>
<rect x="102.90" y="1038.15" width="8.10" height="2.70" fill="#1c1d12" />
<text x="92.6" y="1158.2" font-size="32.3" text-anchor="end" fill="#1c1d12" >32</text>
<rect x="102.90" y="1149.75" width="8.10" height="2.70" fill="#1c1d12" />
<text x="496" y="959.6" font-size="32.7" text-anchor="start" fill="#1c1d12" >pJNK (T183/Y185)</text>
<text x="496.5" y="1044.5" font-size="32.7" text-anchor="start" fill="#1c1d12" >JNK</text>
<text x="496.5" y="1132.7" font-size="32.7" text-anchor="start" fill="#1c1d12" >GAPDH</text>
<rect x="186.85" y="1309.10" width="3.30" height="361.90" fill="#1c1d12" />
<rect x="173.30" y="1667.55" width="374.50" height="3.30" fill="#1c1d12" />
<rect x="173.30" y="1667.55" width="15.20" height="3.30" fill="#1c1d12" />
<text x="170.6" y="1678.9" font-size="28" font-weight="bold" text-anchor="end" fill="#1c1d12" >0</text>
<rect x="173.30" y="1595.87" width="15.20" height="3.30" fill="#1c1d12" />
<text x="170.6" y="1607.22" font-size="28" font-weight="bold" text-anchor="end" fill="#1c1d12" >2</text>
<rect x="173.30" y="1524.19" width="15.20" height="3.30" fill="#1c1d12" />
<text x="170.6" y="1535.54" font-size="28" font-weight="bold" text-anchor="end" fill="#1c1d12" >4</text>
<rect x="173.30" y="1452.51" width="15.20" height="3.30" fill="#1c1d12" />
<text x="170.6" y="1463.86" font-size="28" font-weight="bold" text-anchor="end" fill="#1c1d12" >6</text>
<rect x="173.30" y="1380.83" width="15.20" height="3.30" fill="#1c1d12" />
<text x="170.6" y="1392.18" font-size="28" font-weight="bold" text-anchor="end" fill="#1c1d12" >8</text>
<rect x="173.30" y="1309.15" width="15.20" height="3.30" fill="#1c1d12" />
<text x="170.6" y="1320.5" font-size="28" font-weight="bold" text-anchor="end" fill="#1c1d12" >10</text>
<text transform="translate(118.9,1490.25) rotate(-90)" font-size="29" font-weight="bold" text-anchor="middle" fill="#1c1d12" >Relative pJNK/JNK Expression</text>
<rect x="207.90" y="1633.36" width="38.40" height="35.84" fill="#1c1d12" />
<rect x="225.45" y="1669.20" width="3.30" height="15.30" fill="#1c1d12" />
<text transform="translate(234.4,1703.6) rotate(-45)" font-size="28" font-weight="bold" text-anchor="end" fill="#1c1d12" >NHK</text>
<rect x="254.90" y="1608.27" width="38.40" height="60.93" fill="#1c1d12" />
<rect x="272.45" y="1669.20" width="3.30" height="15.30" fill="#1c1d12" />
<text transform="translate(281.40000000000003,1703.6) rotate(-45)" font-size="28" font-weight="bold" text-anchor="end" fill="#1c1d12" >C33A</text>
<rect x="273.15" y="1590.35" width="1.90" height="17.92" fill="#1c1d12" />
<rect x="264.10" y="1589.40" width="20.00" height="1.90" fill="#1c1d12" />
<rect x="301.90" y="1565.26" width="38.40" height="103.94" fill="#1c1d12" />
<rect x="319.45" y="1669.20" width="3.30" height="15.30" fill="#1c1d12" />
<text transform="translate(328.40000000000003,1703.6) rotate(-45)" font-size="28" font-weight="bold" text-anchor="end" fill="#1c1d12" >DoTc2</text>
<rect x="320.15" y="1502.54" width="1.90" height="62.72" fill="#1c1d12" />
<rect x="311.10" y="1501.59" width="20.00" height="1.90" fill="#1c1d12" />
<rect x="348.90" y="1455.95" width="38.40" height="213.25" fill="#1c1d12" />
<rect x="366.45" y="1669.20" width="3.30" height="15.30" fill="#1c1d12" />
<text transform="translate(375.40000000000003,1703.6) rotate(-45)" font-size="28" font-weight="bold" text-anchor="end" fill="#1c1d12" >SiHa</text>
<rect x="367.15" y="1427.28" width="1.90" height="28.67" fill="#1c1d12" />
<rect x="358.10" y="1426.33" width="20.00" height="1.90" fill="#1c1d12" />
<rect x="395.90" y="1495.38" width="38.40" height="173.82" fill="#1c1d12" />
<rect x="413.45" y="1669.20" width="3.30" height="15.30" fill="#1c1d12" />
<text transform="translate(422.40000000000003,1703.6) rotate(-45)" font-size="28" font-weight="bold" text-anchor="end" fill="#1c1d12" >CaSKi</text>
<rect x="414.15" y="1461.33" width="1.90" height="34.05" fill="#1c1d12" />
<rect x="405.10" y="1460.38" width="20.00" height="1.90" fill="#1c1d12" />
<rect x="442.90" y="1429.07" width="38.40" height="240.13" fill="#1c1d12" />
<rect x="460.45" y="1669.20" width="3.30" height="15.30" fill="#1c1d12" />
<text transform="translate(469.40000000000003,1703.6) rotate(-45)" font-size="28" font-weight="bold" text-anchor="end" fill="#1c1d12" >SW756</text>
<rect x="461.15" y="1384.27" width="1.90" height="44.80" fill="#1c1d12" />
<rect x="452.10" y="1383.32" width="20.00" height="1.90" fill="#1c1d12" />
<rect x="489.90" y="1414.74" width="38.40" height="254.46" fill="#1c1d12" />
<rect x="507.45" y="1669.20" width="3.30" height="15.30" fill="#1c1d12" />
<text transform="translate(516.4,1703.6) rotate(-45)" font-size="28" font-weight="bold" text-anchor="end" fill="#1c1d12" >HeLa</text>
<rect x="508.15" y="1375.31" width="1.90" height="39.42" fill="#1c1d12" />
<rect x="499.10" y="1374.36" width="20.00" height="1.90" fill="#1c1d12" />
<circle cx="214.3" cy="1633" r="7.0" fill="#fff" stroke="#1c1d12" stroke-width="3.3"/>
<circle cx="227" cy="1633" r="7.0" fill="#fff" stroke="#1c1d12" stroke-width="3.3"/>
<circle cx="239.6" cy="1633" r="7.0" fill="#fff" stroke="#1c1d12" stroke-width="3.3"/>
<circle cx="274.7" cy="1581.6" r="7.0" fill="#fff" stroke="#1c1d12" stroke-width="3.3"/>
<circle cx="274.7" cy="1614" r="7.0" fill="#fff" stroke="#1c1d12" stroke-width="3.3"/>
<circle cx="274.7" cy="1630.4" r="7.0" fill="#fff" stroke="#1c1d12" stroke-width="3.3"/>
<circle cx="321.5" cy="1493.6" r="7.0" fill="#fff" stroke="#1c1d12" stroke-width="3.3"/>
<circle cx="321.5" cy="1590" r="7.0" fill="#fff" stroke="#1c1d12" stroke-width="3.3"/>
<circle cx="321.5" cy="1614" r="7.0" fill="#fff" stroke="#1c1d12" stroke-width="3.3"/>
<circle cx="355.6" cy="1436.8" r="7.0" fill="#fff" stroke="#1c1d12" stroke-width="3.3"/>
<circle cx="380.1" cy="1441" r="7.0" fill="#fff" stroke="#1c1d12" stroke-width="3.3"/>
<circle cx="368" cy="1488.2" r="7.0" fill="#fff" stroke="#1c1d12" stroke-width="3.3"/>
<circle cx="402.8" cy="1474.8" r="7.0" fill="#fff" stroke="#1c1d12" stroke-width="3.3"/>
<circle cx="427.3" cy="1477.1" r="7.0" fill="#fff" stroke="#1c1d12" stroke-width="3.3"/>
<circle cx="414.5" cy="1535" r="7.0" fill="#fff" stroke="#1c1d12" stroke-width="3.3"/>
<circle cx="449.7" cy="1400.6" r="7.0" fill="#fff" stroke="#1c1d12" stroke-width="3.3"/>
<circle cx="474.2" cy="1404.3" r="7.0" fill="#fff" stroke="#1c1d12" stroke-width="3.3"/>
<circle cx="462" cy="1481.8" r="7.0" fill="#fff" stroke="#1c1d12" stroke-width="3.3"/>
<circle cx="496.4" cy="1386.4" r="7.0" fill="#fff" stroke="#1c1d12" stroke-width="3.3"/>
<circle cx="521" cy="1397.1" r="7.0" fill="#fff" stroke="#1c1d12" stroke-width="3.3"/>
<circle cx="508.8" cy="1459.2" r="7.0" fill="#fff" stroke="#1c1d12" stroke-width="3.3"/>
<rect x="226.35" y="1223.80" width="3.10" height="383.20" fill="#1c1d12" />
<rect x="226.40" y="1223.75" width="206.50" height="3.10" fill="#1c1d12" />
<rect x="429.85" y="1223.80" width="3.10" height="40.50" fill="#1c1d12" />
<rect x="337.90" y="1262.75" width="184.50" height="3.10" fill="#1c1d12" />
<rect x="292.05" y="1300.80" width="3.10" height="82.90" fill="#1c1d12" />
<rect x="292.10" y="1300.75" width="140.80" height="3.10" fill="#1c1d12" />
<rect x="429.85" y="1303.50" width="3.10" height="40.50" fill="#1c1d12" />
<rect x="337.90" y="1342.45" width="184.50" height="3.10" fill="#1c1d12" />
<rect x="227.90" y="1397.85" width="64.40" height="3.10" fill="#1c1d12" />
<rect x="292.05" y="1402.30" width="3.10" height="35.40" fill="#1c1d12" />
<rect x="245.70" y="1436.15" width="81.80" height="3.10" fill="#1c1d12" />
<text x="427.8" y="1304.3" font-size="34" font-weight="bold" text-anchor="middle" fill="#1c1d12" letter-spacing="0.7">***</text>
<text x="427.8" y="1381.2" font-size="34" font-weight="bold" text-anchor="middle" fill="#1c1d12" letter-spacing="0.7">***</text>
<text x="293.5" y="1466.7" font-size="32" font-weight="bold" font-style="italic" text-anchor="middle" fill="#1c1d12" >ns</text>
<text x="766.5" y="678.1" font-size="52" font-weight="bold" text-anchor="start" fill="#1c1d12" >E</text>
<text x="976.5" y="687.7" font-size="29" font-weight="bold" text-anchor="middle" fill="#1c1d12" >Non-Cancer</text>
<text x="1220.5" y="687.7" font-size="29" font-weight="bold" text-anchor="middle" fill="#1c1d12" >Cervical Cancer</text>
<text transform="translate(844.3,807.5) rotate(-90)" font-size="36" font-weight="bold" text-anchor="middle" fill="#1c1d12" >20X</text>
<text transform="translate(844.3,1072.4) rotate(-90)" font-size="36" font-weight="bold" text-anchor="middle" fill="#1c1d12" >40X</text>
<clipPath id="im10"><rect x="857.1" y="702.7" width="234.10000000000002" height="230.79999999999995"/></clipPath>
<g clip-path="url(#im10)">
<rect x="857.10" y="702.70" width="234.10" height="230.80" fill="#f8f7f2" />
<g filter="url(#lgrain)">
<circle cx="978.4" cy="819.6" r="99.5" fill="#eeebe2"/>
<ellipse cx="1045" cy="820" rx="30" ry="70" fill="#e4e0d2" fill-opacity="1.0" transform="rotate(0 1045 820)" filter="url(#bl2)"/>
<ellipse cx="900.5" cy="814.2" rx="14.3" ry="14.3" fill="#cec8b3" fill-opacity="1.0" transform="rotate(0 900.5 814.2)" filter="url(#bl)"/>
<path d="M973.0 787.0 L995.0 800.0 L1024.0 819.0" fill="none" stroke="#cec8b2" stroke-opacity="1.0" stroke-width="14" stroke-linecap="round" stroke-linejoin="round" filter="url(#bl)"/>
<path d="M925.7 807.4 L950.1 808.7 L966.4 822.3 L963.7 835.9 L942.0 835.9 L931.1 822.3 Z" fill="#dad5c2" fill-opacity="1.0" filter="url(#bl)"/>
</g>
<path d="M977.3 742.1 L1004.5 744.8 L1012.7 754.4 L1007.2 770.7 L997.7 776.1 L977.3 768.0 L984.1 757.1 Z" fill="#f8f7f2" fill-opacity="1.0" filter="url(#bl)"/>
<path d="M959.6 781.5 L990.9 808.7" fill="none" stroke="#f8f7f2" stroke-opacity="1.0" stroke-width="5.4" stroke-linecap="round" stroke-linejoin="round" filter="url(#bl)"/>
<ellipse cx="947.4" cy="754.4" rx="5.4" ry="5.4" fill="#f6f5f0" fill-opacity="1.0" transform="rotate(0 947.4 754.4)" filter="url(#bl)"/>
<path d="M920.2 849.5 L936.5 857.7" fill="none" stroke="#f5f4ee" stroke-opacity="1.0" stroke-width="6.8" stroke-linecap="round" stroke-linejoin="round" filter="url(#bl)"/>
<path d="M1020.0 870.0 L1045.0 878.0" fill="none" stroke="#f3f1ea" stroke-opacity="1.0" stroke-width="5" stroke-linecap="round" stroke-linejoin="round" filter="url(#bl)"/>
<path d="M1058.0 857.0 L1066.0 842.0" fill="none" stroke="#f3f1ea" stroke-opacity="1.0" stroke-width="4" stroke-linecap="round" stroke-linejoin="round" filter="url(#bl)"/>
<ellipse cx="925" cy="773.4" rx="8.8" ry="3.8" fill="#6f6a55" fill-opacity="1.0" transform="rotate(0 925 773.4)" filter="url(#bl)"/>
<ellipse cx="988.9" cy="876.7" rx="4" ry="5.4" fill="#938d76" fill-opacity="1.0" transform="rotate(0 988.9 876.7)" filter="url(#bl)"/>
<ellipse cx="950.1" cy="884.8" rx="5" ry="2.5" fill="#9a947d" fill-opacity="1.0" transform="rotate(0 950.1 884.8)" filter="url(#bl)"/>
<ellipse cx="1008.6" cy="857.7" rx="4" ry="4" fill="#7a745f" fill-opacity="1.0" transform="rotate(0 1008.6 857.7)" filter="url(#bl)"/>
<ellipse cx="1012.7" cy="738.1" rx="3" ry="3" fill="#8a846f" fill-opacity="1.0" transform="rotate(0 1012.7 738.1)" filter="url(#bl)"/>
<ellipse cx="939.9" cy="735.3" rx="3" ry="3" fill="#7d7762" fill-opacity="1.0" transform="rotate(0 939.9 735.3)" filter="url(#bl)"/>
<ellipse cx="1009.9" cy="795.1" rx="6" ry="3" fill="#9c9680" fill-opacity="1.0" transform="rotate(0 1009.9 795.1)" filter="url(#bl)"/>
<ellipse cx="1037.1" cy="835.9" rx="3" ry="6" fill="#aaa48e" fill-opacity="1.0" transform="rotate(0 1037.1 835.9)" filter="url(#bl)"/>
<ellipse cx="1061.6" cy="835.9" rx="5" ry="8" fill="#b0aa94" fill-opacity="1.0" transform="rotate(0 1061.6 835.9)" filter="url(#bl)"/>
<ellipse cx="1042.5" cy="754.4" rx="4" ry="8" fill="#b5af99" fill-opacity="1.0" transform="rotate(0 1042.5 754.4)" filter="url(#bl)"/>
<ellipse cx="1040" cy="888" rx="5" ry="3" fill="#a9a38d" fill-opacity="1.0" transform="rotate(0 1040 888)" filter="url(#bl)"/>
</g>
<rect x="1051.60" y="919.90" width="20.70" height="5.10" fill="#1c1d12" />
<clipPath id="im11"><rect x="1107.6" y="702.7" width="231.60000000000014" height="230.79999999999995"/></clipPath>
<g clip-path="url(#im11)">
<rect x="1107.60" y="702.70" width="231.60" height="230.80" fill="#f8f7f2" />
<g filter="url(#tgrain)">
<g filter="url(#bl)">
<circle cx="1222" cy="817" r="100" fill="#e6e2d4" fill-opacity="0.4"/>
<path d="M1144.8 761.1 L1157.1 770.7 L1161.1 795.1 L1157.1 822.3 L1157.1 849.5 L1140.8 856.3 L1134.0 835.9 L1132.6 808.7 L1138.0 781.5 Z" fill="#dcd7c3" fill-opacity="1.0"/>
<path d="M1163.9 738.0 L1176.1 735.3 L1192.4 761.1 L1203.3 795.1 L1206.0 822.3 L1195.1 829.1 L1181.5 808.7 L1170.7 781.5 L1162.5 754.4 Z" fill="#d2ccb5" fill-opacity="1.0"/>
<path d="M1158.4 770.7 L1176.1 784.3 L1195.1 806.0 L1215.5 822.3 L1235.9 833.2 L1256.3 846.8 L1267.1 869.9 L1265.8 894.3 L1252.2 903.8 L1235.9 883.5 L1215.5 869.9 L1195.1 856.3 L1176.1 835.9 L1162.5 815.5 L1154.4 788.3 Z" fill="#d2ccb5" fill-opacity="1.0"/>
<path d="M1193.8 719.0 L1211.4 716.3 L1222.3 740.8 L1230.5 776.1 L1229.1 815.5 L1219.6 822.3 L1214.1 795.1 L1206.0 761.1 L1195.1 734.0 Z" fill="#d2ccb5" fill-opacity="1.0"/>
<path d="M1225.0 717.7 L1249.5 716.3 L1256.3 740.8 L1254.9 767.9 L1246.8 773.4 L1235.9 754.4 L1229.1 734.0 Z" fill="#dcd7c3" fill-opacity="1.0"/>
<path d="M1235.9 806.0 L1252.2 808.7 L1256.3 829.1 L1249.5 835.9 L1235.9 829.1 Z" fill="#d2ccb5" fill-opacity="1.0"/>
<path d="M1256.3 724.5 L1276.7 727.2 L1297.0 744.8 L1307.9 765.2 L1314.7 784.3 L1312.0 795.1 L1301.1 788.3 L1287.5 770.7 L1269.9 754.4 L1257.6 740.8 Z" fill="#dcd7c3" fill-opacity="1.0"/>
<path d="M1184.3 903.8 L1197.8 869.9 L1208.7 876.7 L1206.0 903.8 L1188.3 912.0 Z" fill="#dcd7c3" fill-opacity="1.0"/>
<path d="M1246.8 883.5 L1265.8 869.9 L1267.1 901.1 L1249.5 912.0 Z" fill="#dcd7c3" fill-opacity="1.0"/>
<path d="M1165.2 863.1 L1181.5 869.9 L1178.8 897.0 L1167.9 893.0 Z" fill="#dcd7c3" fill-opacity="1.0"/>
<path d="M1210.0 880.0 L1240.0 885.0 L1245.0 905.0 L1215.0 905.0 Z" fill="#dcd7c3" fill-opacity="0.8"/>
<ellipse cx="1271.2" cy="835.9" rx="7.5" ry="10" fill="#d2ccb5" fill-opacity="1.0" transform="rotate(0 1271.2 835.9)"/>
<ellipse cx="1287.5" cy="842.7" rx="7.5" ry="10.5" fill="#d2ccb5" fill-opacity="1.0" transform="rotate(0 1287.5 842.7)"/>
<ellipse cx="1307.9" cy="833.2" rx="8" ry="12" fill="#d2ccb5" fill-opacity="1.0" transform="rotate(0 1307.9 833.2)"/>
<ellipse cx="1295.7" cy="865.8" rx="8" ry="10.5" fill="#d2ccb5" fill-opacity="1.0" transform="rotate(0 1295.7 865.8)"/>
<ellipse cx="1316" cy="797.8" rx="5.4" ry="6.8" fill="#d2ccb5" fill-opacity="1.0" transform="rotate(0 1316 797.8)"/>
<ellipse cx="1269.9" cy="797.8" rx="5" ry="5" fill="#d2ccb5" fill-opacity="1.0" transform="rotate(0 1269.9 797.8)"/>
<ellipse cx="1280.7" cy="808.7" rx="5" ry="5" fill="#d2ccb5" fill-opacity="1.0" transform="rotate(0 1280.7 808.7)"/>
<ellipse cx="1300" cy="815" rx="4" ry="5" fill="#d2ccb5" fill-opacity="1.0" transform="rotate(0 1300 815)"/>
</g></g>
<path d="M1180.0 745.0 L1200.0 790.0 L1212.0 822.0" fill="none" stroke="#f6f5f0" stroke-opacity="0.6" stroke-width="6" stroke-linecap="round" stroke-linejoin="round" filter="url(#bl)"/>
<path d="M1258.0 775.0 L1280.0 800.0 L1310.0 830.0 L1325.0 860.0" fill="none" stroke="#f6f5f0" stroke-opacity="0.6" stroke-width="7" stroke-linecap="round" stroke-linejoin="round" filter="url(#bl)"/>
<path d="M1165.0 870.0 L1185.0 905.0 L1200.0 925.0" fill="none" stroke="#f6f5f0" stroke-opacity="0.6" stroke-width="8" stroke-linecap="round" stroke-linejoin="round" filter="url(#bl)"/>
<path d="M1215.0 835.0 L1245.0 850.0" fill="none" stroke="#f6f5f0" stroke-opacity="0.6" stroke-width="4" stroke-linecap="round" stroke-linejoin="round" filter="url(#bl)"/>
<path d="M1120.0 850.0 L1135.0 880.0 L1165.0 915.0" fill="none" stroke="#f6f5f0" stroke-opacity="0.6" stroke-width="10" stroke-linecap="round" stroke-linejoin="round" filter="url(#bl)"/>
<path d="M1270.0 890.0 L1300.0 890.0 L1320.0 870.0" fill="none" stroke="#f6f5f0" stroke-opacity="0.6" stroke-width="6" stroke-linecap="round" stroke-linejoin="round" filter="url(#bl)"/>
<path d="M1227.7 734.0 L1234.5 788.3" fill="none" stroke="#6a6650" stroke-opacity="0.8" stroke-width="3" stroke-linecap="round" stroke-linejoin="round" filter="url(#bl)"/>
<g filter="url(#wgrain)">
<path d="M1159.8 841.3 L1167.9 860.3 L1158.4 872.6 L1146.2 865.8 L1148.9 856.3 Z" fill="#3f3d2e" fill-opacity="0.95" filter="url(#bl)"/>
</g>
<ellipse cx="1125" cy="800" rx="1.8" ry="1.8" fill="#77725c" fill-opacity="1.0" transform="rotate(0 1125 800)" filter="url(#bl)"/>
<ellipse cx="1128" cy="830" rx="1.8" ry="1.8" fill="#77725c" fill-opacity="1.0" transform="rotate(0 1128 830)" filter="url(#bl)"/>
<ellipse cx="1150" cy="735" rx="1.8" ry="1.8" fill="#77725c" fill-opacity="1.0" transform="rotate(0 1150 735)" filter="url(#bl)"/>
<ellipse cx="1180" cy="720" rx="1.8" ry="1.8" fill="#77725c" fill-opacity="1.0" transform="rotate(0 1180 720)" filter="url(#bl)"/>
<ellipse cx="1300" cy="760" rx="1.8" ry="1.8" fill="#77725c" fill-opacity="1.0" transform="rotate(0 1300 760)" filter="url(#bl)"/>
<ellipse cx="1160" cy="900" rx="1.8" ry="1.8" fill="#77725c" fill-opacity="1.0" transform="rotate(0 1160 900)" filter="url(#bl)"/>
<ellipse cx="1230" cy="905" rx="1.8" ry="1.8" fill="#77725c" fill-opacity="1.0" transform="rotate(0 1230 905)" filter="url(#bl)"/>
<ellipse cx="1315" cy="770" rx="1.8" ry="1.8" fill="#77725c" fill-opacity="1.0" transform="rotate(0 1315 770)" filter="url(#bl)"/>
<ellipse cx="1205" cy="728" rx="1.8" ry="1.8" fill="#77725c" fill-opacity="1.0" transform="rotate(0 1205 728)" filter="url(#bl)"/>
<ellipse cx="1247" cy="880" rx="1.8" ry="1.8" fill="#77725c" fill-opacity="1.0" transform="rotate(0 1247 880)" filter="url(#bl)"/>
</g>
<rect x="1303.80" y="919.90" width="20.40" height="5.10" fill="#1c1d12" />
<clipPath id="im12"><rect x="857.1" y="952" width="234.10000000000002" height="232.20000000000005"/></clipPath>
<g clip-path="url(#im12)">
<rect x="857.10" y="952.00" width="234.10" height="232.20" fill="#f8f7f2" />
<g filter="url(#lgrain)">
<circle cx="1094" cy="953.6" r="196" fill="#eeebe2"/>
<ellipse cx="939.2" cy="961.2" rx="25" ry="12" fill="#d4cebb" fill-opacity="1.0" transform="rotate(0 939.2 961.2)" filter="url(#bl2)"/>
<path d="M995.8 952.0 L1090.7 952.0 L1090.7 990.0 L1040.0 982.0 L1000.0 966.0 Z" fill="#dad5c3" fill-opacity="1.0" filter="url(#bl2)"/>
<ellipse cx="918" cy="992.4" rx="7" ry="4" fill="#f8f7f2" fill-opacity="1.0" transform="rotate(0 918 992.4)" filter="url(#bl)"/>
<path d="M975.0 1012.0 L1005.0 1026.0" fill="none" stroke="#f3f1ea" stroke-opacity="1.0" stroke-width="8" stroke-linecap="round" stroke-linejoin="round" filter="url(#bl2)"/>
</g>
<ellipse cx="1038.3" cy="1087.2" rx="9" ry="5" fill="#948e77" fill-opacity="1.0" transform="rotate(0 1038.3 1087.2)" filter="url(#bl)"/>
<ellipse cx="1062.3" cy="1108.5" rx="5" ry="3" fill="#a39d86" fill-opacity="1.0" transform="rotate(0 1062.3 1108.5)" filter="url(#bl)"/>
<ellipse cx="1025" cy="1135" rx="6" ry="4" fill="#c8c2ac" fill-opacity="1.0" transform="rotate(0 1025 1135)" filter="url(#bl)"/>
<ellipse cx="926" cy="1041" rx="2" ry="2" fill="#6f6a55" fill-opacity="1.0" transform="rotate(0 926 1041)" filter="url(#bl)"/>
</g>
<rect x="1030.60" y="1164.80" width="41.70" height="5.10" fill="#1c1d12" />
<clipPath id="im13"><rect x="1107.6" y="952" width="231.60000000000014" height="232.20000000000005"/></clipPath>
<g clip-path="url(#im13)">
<rect x="1107.60" y="952.00" width="231.60" height="232.20" fill="#f8f7f2" />
<g filter="url(#tgrain)">
<g filter="url(#bl)">
<path d="M1176.3 951.9 L1339.3 951.9 L1339.3 1067.1 L1308.1 1042.1 L1280.4 1028.2 L1252.6 1035.2 L1245.7 1069.9 L1252.6 1100.4 L1238.7 1101.8 L1220.7 1087.9 L1197.1 1067.1 L1183.2 1042.1 L1169.4 1000.5 L1165.2 972.7 Z" fill="#dad5c0" fill-opacity="1.0"/>
<path d="M1280.4 1056.0 L1308.1 1069.9 L1339.3 1083.7 L1339.3 1160.0 L1308.1 1146.2 L1294.2 1146.2 L1260.9 1146.2 L1258.2 1135.1 L1287.3 1125.4 L1279.0 1083.7 Z" fill="#ddd8c5" fill-opacity="1.0"/>
<path d="M1200.0 985.0 L1215.0 990.0 L1238.0 1040.0 L1232.0 1070.0" fill="none" stroke="#f0eee6" stroke-opacity="1.0" stroke-width="10" stroke-linecap="round" stroke-linejoin="round"/>
<ellipse cx="1205" cy="975" rx="18" ry="25" fill="#cfc9b2" fill-opacity="0.9" transform="rotate(0 1205 975)"/>
<ellipse cx="1300" cy="1000" rx="25" ry="18" fill="#d2ccb6" fill-opacity="0.9" transform="rotate(0 1300 1000)"/>
</g></g>
<path d="M1130.5 956.1 L1150 990 L1174.9 1042.1" fill="none" stroke="#6d6852" stroke-opacity="0.6" stroke-width="4" stroke-dasharray="5 4 2 6" filter="url(#bl)"/>
<path d="M1200.0 985.0 L1190.0 1015.0 L1175.0 1045.0 L1180.0 1070.0 L1215.0 1080.0 L1232.0 1060.0 L1240.0 1025.0 L1225.0 990.0" fill="none" stroke="#f3f1ea" stroke-opacity="0.8" stroke-width="8" stroke-linecap="round" stroke-linejoin="round" filter="url(#bl)"/>
<g filter="url(#wgrain)">
<path d="M1215.1 997.7 L1230.4 1031.0 L1227.6 1042.1 L1215.1 1049.1 L1208.2 1064.3 L1183.2 1060.2 L1181.9 1044.9 L1191.6 1028.2 L1199.9 1017.1 Z" fill="#45432f" fill-opacity="1.0" filter="url(#bl)"/>
</g>
</g>
<rect x="1282.60" y="1164.80" width="41.60" height="5.10" fill="#1c1d12" />
<text x="1637.9" y="615.3" font-size="36" font-weight="bold" text-anchor="middle" fill="#1c1d12" >IHC Analysis</text>
<rect x="1508.55" y="660.60" width="3.30" height="382.90" fill="#1c1d12" />
<rect x="1495.60" y="1040.25" width="267.90" height="3.30" fill="#1c1d12" />
<rect x="1495.60" y="1040.25" width="14.60" height="3.30" fill="#1c1d12" />
<text x="1492.2" y="1053.6000000000001" font-size="28.5" font-weight="bold" text-anchor="end" fill="#1c1d12" >100</text>
<rect x="1495.60" y="964.31" width="14.60" height="3.30" fill="#1c1d12" />
<text x="1492.2" y="977.6600000000001" font-size="28.5" font-weight="bold" text-anchor="end" fill="#1c1d12" >120</text>
<rect x="1495.60" y="888.37" width="14.60" height="3.30" fill="#1c1d12" />
<text x="1492.2" y="901.7200000000001" font-size="28.5" font-weight="bold" text-anchor="end" fill="#1c1d12" >140</text>
<rect x="1495.60" y="812.43" width="14.60" height="3.30" fill="#1c1d12" />
<text x="1492.2" y="825.7800000000001" font-size="28.5" font-weight="bold" text-anchor="end" fill="#1c1d12" >160</text>
<rect x="1495.60" y="736.49" width="14.60" height="3.30" fill="#1c1d12" />
<text x="1492.2" y="749.8400000000001" font-size="28.5" font-weight="bold" text-anchor="end" fill="#1c1d12" >180</text>
<rect x="1495.60" y="660.55" width="14.60" height="3.30" fill="#1c1d12" />
<text x="1492.2" y="673.9000000000001" font-size="28.5" font-weight="bold" text-anchor="end" fill="#1c1d12" >200</text>
<text transform="translate(1422.6,852.5) rotate(-90)" font-size="30.8" font-weight="bold" text-anchor="middle" fill="#1c1d12" >pJNK H-Score</text>
<rect x="1581.05" y="1041.90" width="3.30" height="15.80" fill="#1c1d12" />
<rect x="1689.35" y="1041.90" width="3.30" height="15.80" fill="#1c1d12" />
<text transform="translate(1589.5,1078.5) rotate(-45)" font-size="29" font-weight="bold" text-anchor="end" fill="#1c1d12" >Non-Cancer</text>
<text transform="translate(1697.8,1078.5) rotate(-45)" font-size="29" font-weight="bold" text-anchor="end" fill="#1c1d12" >Cervical Cancer</text>
<circle cx="1582.7" cy="865.1" r="5.8" fill="#1c1d12"/>
<circle cx="1571.5" cy="887.7" r="5.8" fill="#1c1d12"/>
<circle cx="1594.1" cy="884" r="5.8" fill="#1c1d12"/>
<circle cx="1594.1" cy="912" r="5.8" fill="#1c1d12"/>
<circle cx="1571.5" cy="920" r="5.8" fill="#1c1d12"/>
<circle cx="1582.7" cy="934.6" r="5.8" fill="#1c1d12"/>
<circle cx="1571.5" cy="952.3" r="5.8" fill="#1c1d12"/>
<circle cx="1594.1" cy="955.5" r="5.8" fill="#1c1d12"/>
<circle cx="1582.7" cy="973.2" r="5.8" fill="#1c1d12"/>
<circle cx="1687.8" cy="743.5" r="5.8" fill="#1c1d12"/>
<circle cx="1701.5" cy="745.6" r="5.8" fill="#1c1d12"/>
<circle cx="1694.7" cy="754.9" r="5.8" fill="#1c1d12"/>
<circle cx="1687.8" cy="783.3" r="5.8" fill="#1c1d12"/>
<circle cx="1694.7" cy="781.2" r="5.8" fill="#1c1d12"/>
<circle cx="1694.7" cy="797.3" r="5.8" fill="#1c1d12"/>
<circle cx="1681.3" cy="807" r="5.8" fill="#1c1d12"/>
<circle cx="1701.5" cy="808.7" r="5.8" fill="#1c1d12"/>
<circle cx="1687.8" cy="814.5" r="5.8" fill="#1c1d12"/>
<circle cx="1694.7" cy="816.7" r="5.8" fill="#1c1d12"/>
<circle cx="1681.3" cy="821" r="5.8" fill="#1c1d12"/>
<circle cx="1701.5" cy="822.5" r="5.8" fill="#1c1d12"/>
<circle cx="1687.8" cy="827.4" r="5.8" fill="#1c1d12"/>
<circle cx="1674.2" cy="831.7" r="5.8" fill="#1c1d12"/>
<circle cx="1680.7" cy="833.9" r="5.8" fill="#1c1d12"/>
<circle cx="1659.8" cy="843.6" r="5.8" fill="#1c1d12"/>
<circle cx="1666.7" cy="850" r="5.8" fill="#1c1d12"/>
<circle cx="1680.7" cy="845.7" r="5.8" fill="#1c1d12"/>
<circle cx="1694.7" cy="843.6" r="5.8" fill="#1c1d12"/>
<circle cx="1708.6" cy="840.4" r="5.8" fill="#1c1d12"/>
<circle cx="1715.1" cy="841" r="5.8" fill="#1c1d12"/>
<circle cx="1721.6" cy="838.8" r="5.8" fill="#1c1d12"/>
<circle cx="1721.6" cy="850" r="5.8" fill="#1c1d12"/>
<circle cx="1701.5" cy="852.2" r="5.8" fill="#1c1d12"/>
<circle cx="1708.6" cy="852.2" r="5.8" fill="#1c1d12"/>
<circle cx="1687.8" cy="861.9" r="5.8" fill="#1c1d12"/>
<circle cx="1680.7" cy="867.3" r="5.8" fill="#1c1d12"/>
<circle cx="1674.2" cy="871.6" r="5.8" fill="#1c1d12"/>
<circle cx="1694.7" cy="868.3" r="5.8" fill="#1c1d12"/>
<circle cx="1701.5" cy="867.3" r="5.8" fill="#1c1d12"/>
<circle cx="1708.6" cy="864.7" r="5.8" fill="#1c1d12"/>
<circle cx="1694.7" cy="878" r="5.8" fill="#1c1d12"/>
<circle cx="1687.8" cy="885.5" r="5.8" fill="#1c1d12"/>
<circle cx="1694.7" cy="892" r="5.8" fill="#1c1d12"/>
<circle cx="1687.8" cy="899.1" r="5.8" fill="#1c1d12"/>
<circle cx="1690.4" cy="910.7" r="5.8" fill="#1c1d12"/>
<circle cx="1690.4" cy="943" r="5.8" fill="#1c1d12"/>
<rect x="1547.20" y="918.40" width="71.50" height="4.00" fill="#1c1d12" />
<rect x="1581.55" y="908.20" width="2.30" height="24.70" fill="#1c1d12" />
<rect x="1564.40" y="907.05" width="37.10" height="2.30" fill="#1c1d12" />
<rect x="1564.40" y="931.75" width="37.10" height="2.30" fill="#1c1d12" />
<rect x="1655.90" y="837.60" width="70.40" height="4.00" fill="#1c1d12" />
<rect x="1689.85" y="833.30" width="2.30" height="12.70" fill="#1c1d12" />
<rect x="1680.70" y="832.15" width="29.00" height="2.30" fill="#1c1d12" />
<rect x="1680.70" y="844.85" width="29.00" height="2.30" fill="#1c1d12" />
<text x="1692.5" y="734.9" font-size="41" font-weight="bold" text-anchor="middle" fill="#1c1d12" letter-spacing="1.4">***</text>
</svg></body></html>
